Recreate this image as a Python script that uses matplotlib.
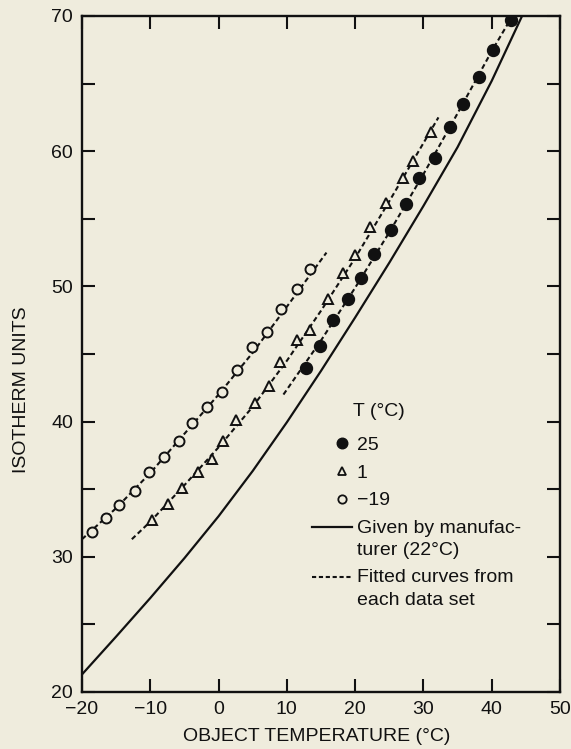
import matplotlib
matplotlib.use("Agg")
import matplotlib.pyplot as plt
from matplotlib.lines import Line2D
from matplotlib.legend_handler import HandlerLine2D

plt.rcParams['font.family'] = ['Liberation Sans', 'DejaVu Sans']

# ---------------- data ----------------
# T = 25 C (filled circles)
x_25 = [12.8, 14.9, 16.7, 19.0, 20.9, 22.8, 25.2, 27.5, 29.4, 31.7, 33.9, 35.8, 38.1, 40.2, 42.8]
y_25 = [44.0, 45.6, 47.5, 49.1, 50.6, 52.4, 54.2, 56.1, 58.0, 59.5, 61.8, 63.5, 65.5, 67.5, 69.7]
# T = 1 C (open triangles)
x_1 = [-9.7, -7.4, -5.4, -3.0, -1.0, 0.6, 2.6, 5.4, 7.4, 9.0, 11.5, 13.4,
       16.0, 18.2, 20.0, 22.2, 24.5, 27.0, 28.5, 31.1]
y_1 = [32.7, 33.9, 35.1, 36.3, 37.2, 38.6, 40.1, 41.4, 42.6, 44.4, 46.0, 46.8,
       49.1, 51.0, 52.3, 54.4, 56.2, 58.0, 59.3, 61.4]
# T = -19 C (open circles)
x_m19 = [-18.5, -16.5, -14.6, -12.2, -10.2, -8.0, -5.8, -3.9, -1.7, 0.45, 2.65,
         4.9, 7.1, 9.2, 11.5, 13.4]
y_m19 = [31.8, 32.85, 33.8, 34.9, 36.3, 37.4, 38.6, 39.9, 41.1, 42.2, 43.8,
         45.5, 46.65, 48.3, 49.8, 51.3]

# fitted curves (dashed)
fit_25_x = [9.5, 15, 20, 25, 30, 35, 40, 43.5]
fit_25_y = [42.0, 46.0, 49.9, 54.0, 58.3, 62.8, 67.4, 70.4]
fit_1_x = [-12.7, -10, -5, 0, 5, 10, 15, 20, 25, 30, 32.2]
fit_1_y = [31.3, 32.6, 35.3, 38.1, 41.1, 44.5, 48.2, 52.1, 56.3, 60.6, 62.5]
fit_m19_x = [-20, -15, -10, -5, 0, 5, 10, 15.8]
fit_m19_y = [31.3, 33.6, 36.2, 39.1, 42.0, 45.1, 48.5, 52.5]

# manufacturer curve (solid)
mfr_x = [-20, -15, -10, -5, 0, 5, 10, 15, 20, 25, 30, 35, 40, 45]
mfr_y = [21.3, 24.1, 26.95, 29.9, 33.0, 36.35, 39.95, 43.75, 47.7, 51.75, 55.95, 60.3, 65.2, 70.6]

x_ticks = [-20, -10, 0, 10, 20, 30, 40, 50]
x_tick_labels = ['\u221220', '\u221210', '0', '10', '20', '30', '40', '50']
y_ticks = [20, 25, 30, 35, 40, 45, 50, 55, 60, 65, 70]
y_tick_labels = ['20', '', '30', '', '40', '', '50', '', '60', '', '70']

legend_title = 'T (\u00b0C)'
legend_labels = ['25', '1', '\u221219', 'Given by manufac-\nturer (22\u00b0C)',
                 'Fitted curves from\neach data set']

# ---------------- style ----------------
BG = '#efecdd'
INK = '#111111'
FS = 14
DASH = (0, (2.4, 1.5))

fig = plt.figure(figsize=(5.71, 7.49), dpi=100, facecolor=BG)
ax = fig.add_axes([82 / 571, 1 - 692 / 749, 478 / 571, 676 / 749])
ax.set_facecolor(BG)

ax.plot(mfr_x, mfr_y, color=INK, lw=1.6, solid_capstyle='butt', solid_joinstyle='round')
ax.plot(fit_25_x, fit_25_y, color=INK, lw=1.5, linestyle=DASH)
ax.plot(fit_1_x, fit_1_y, color=INK, lw=1.5, linestyle=DASH)
ax.plot(fit_m19_x, fit_m19_y, color=INK, lw=1.5, linestyle=DASH)

ax.plot(x_25, y_25, linestyle='none', marker='o', ms=8.6, mfc=INK, mec=INK, zorder=5)
ax.plot(x_1, y_1, linestyle='none', marker='^', ms=7.6, mfc=BG, mec=INK, mew=1.4, zorder=5)
ax.plot(x_m19, y_m19, linestyle='none', marker='o', ms=7.2, mfc=BG, mec=INK, mew=1.4, zorder=5)

ax.set_xlim(-20, 50)
ax.set_ylim(20, 70)
ax.set_xticks(x_ticks)
ax.set_xticklabels(x_tick_labels)
ax.set_yticks(y_ticks)
ax.set_yticklabels(y_tick_labels)
ax.tick_params(direction='in', length=9.5, width=1.5, color=INK, labelcolor=INK,
               labelsize=FS, pad=6.5, top=True, right=True)
for s in ax.spines.values():
    s.set_linewidth(1.7)
    s.set_color(INK)

ax.set_xlabel('OBJECT TEMPERATURE (\u00b0C)', fontsize=FS, color=INK)
ax.xaxis.set_label_coords(0.49, -(728 - 692) / 676)
ax.set_ylabel('ISOTHERM UNITS', fontsize=FS, color=INK)
ax.yaxis.set_label_coords(-(82 - 30) / 478, 0.447)


# ---------------- legend ----------------
class KeyHandler(HandlerLine2D):
    def __init__(self, xfrac=0.5, yshift=0.0, **kw):
        super().__init__(**kw)
        self.xfrac = xfrac
        self.yshift = yshift

    def create_artists(self, legend, orig_handle, xdescent, ydescent, width,
                       height, fontsize, trans):
        x0 = -xdescent
        y = (height - ydescent) / 2 + self.yshift * fontsize
        line = Line2D([x0, x0 + width], [y, y])
        self.update_prop(line, orig_handle, legend)
        line.set_marker('None')
        mark = Line2D([x0 + self.xfrac * width], [y])
        self.update_prop(mark, orig_handle, legend)
        mark.set_linestyle('None')
        line.set_transform(trans)
        mark.set_transform(trans)
        return [line, mark]


h25 = Line2D([], [], linestyle='none', marker='o', ms=7.6, mfc=INK, mec=INK)
h1 = Line2D([], [], linestyle='none', marker='^', ms=6.2, mfc=BG, mec=INK, mew=1.3)
hm19 = Line2D([], [], linestyle='none', marker='o', ms=6.0, mfc=BG, mec=INK, mew=1.3)
hmfr = Line2D([], [], color=INK, lw=1.6)
hfit = Line2D([], [], color=INK, lw=1.5, linestyle=(0, (2.0, 1.3)))

hmap = {h25: KeyHandler(xfrac=0.76), h1: KeyHandler(xfrac=0.76),
        hm19: KeyHandler(xfrac=0.76), hmfr: KeyHandler(yshift=0.6),
        hfit: KeyHandler(yshift=0.6)}

leg = ax.legend([h25, h1, hm19, hmfr, hfit], legend_labels, handler_map=hmap,
                loc='upper left', bbox_to_anchor=((312 - 82) / 478, (692 - 436) / 676),
                frameon=False, fontsize=FS, borderpad=0, borderaxespad=0,
                handlelength=2.05, handletextpad=0.25, labelspacing=0.53)
for t in leg.get_texts():
    t.set_color(INK)
    t.set_linespacing(1.41)

ax.text((353 - 82) / 478, (692 - 412) / 676, legend_title, transform=ax.transAxes,
        fontsize=FS, color=INK, ha='left', va='center')

fig.savefig('out.png', dpi=100, facecolor=BG)
